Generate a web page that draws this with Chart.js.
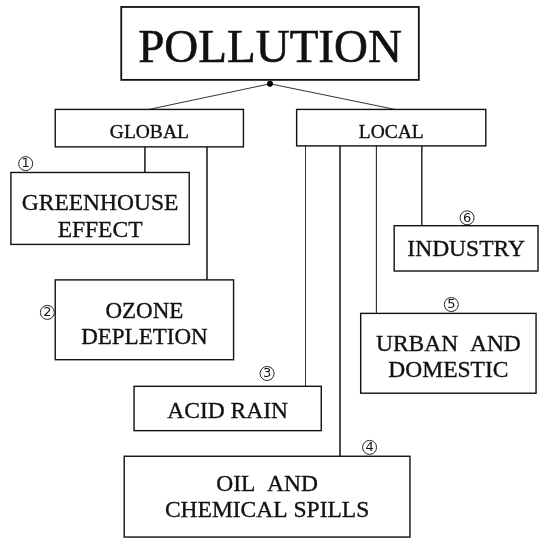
<!DOCTYPE html>
<html lang="en">
<head>
  <meta charset="UTF-8">
  <style>
    html, body { margin: 0; padding: 0; background: #fff; }
    #wrap { width: 544px; height: 545px; }
  </style>
</head>
<body>
  <div id="wrap"><canvas id="tree" width="544" height="545"></canvas></div>

<script src="https://cdn.jsdelivr.net/npm/chart.js"></script>
<script>
  // Nós do diagrama (texto, pai e número circulado)
  const nodeLabels = ['POLLUTION', 'GLOBAL', 'LOCAL', 'GREENHOUSE\nEFFECT', 'OZONE\nDEPLETION',
    'ACID RAIN', 'OIL  AND\nCHEMICAL SPILLS', 'URBAN  AND\nDOMESTIC', 'INDUSTRY'];
  const nodeParents = [null, 0, 0, 1, 1, 2, 2, 2, 2];
  const nodeNumbers = ['', '', '', '1', '2', '3', '4', '5', '6'];

  // Layout em unidades do diagrama (0..544 x 0..545), separado dos dados
  const boxes = [
    [119, 3, 421, 77], [52, 107, 243, 145], [297, 107, 489, 144],
    [7, 171, 188, 244], [52, 280, 233, 361], [132, 388, 322, 433],
    [122, 459, 412, 541], [362, 314, 540, 395], [396, 225, 542, 271]
  ];
  const textCenterY = [43.5, 129.5, 129, 215, 324, 412, 499.5, 357.5, 248];
  const fontSizes = [47, 19.5, 19.5, 23.5, 23, 23.5, 23.5, 23.5, 23.5];
  const lineGap = 26.5;
  const linkX = [null, 147, 397, 143, 206, 306, 341, 378, 424];
  const rootDot = { x: 270, y: 81 };
  const numberPos = [null, null, null, [22, 162], [44, 313], [267, 375], [371, 450], [454, 305], [470, 217]];

  // Linhas de ligação como datasets do próprio Chart.js
  const links = [];
  nodeParents.forEach((p, i) => {
    if (p === null) return;
    const b = boxes[i];
    let pts;
    if (p === 0) {
      pts = [{ x: rootDot.x, y: rootDot.y }, { x: linkX[i], y: b[1] }];
    } else {
      pts = [{ x: linkX[i], y: boxes[p][3] }, { x: linkX[i], y: b[1] }];
    }
    links.push({
      type: 'scatter',
      data: pts,
      showLine: true,
      borderColor: '#333',
      borderWidth: 1,
      pointRadius: 0,
      order: 2
    });
  });
  links.push({
    type: 'scatter',
    data: [rootDot],
    pointRadius: 3,
    pointBackgroundColor: '#000',
    pointBorderWidth: 0,
    order: 1
  });

  const boxPlugin = {
    id: 'boxPlugin',
    afterDatasetsDraw(chart) {
      const ctx = chart.ctx;
      const sx = chart.scales.x, sy = chart.scales.y;
      ctx.save();
      boxes.forEach((b, i) => {
        const x0 = sx.getPixelForValue(b[0]), y0 = sy.getPixelForValue(b[1]);
        const x1 = sx.getPixelForValue(b[2]), y1 = sy.getPixelForValue(b[3]);
        ctx.fillStyle = '#fff';
        ctx.fillRect(x0, y0, x1 - x0, y1 - y0);
        ctx.strokeStyle = '#111';
        ctx.lineWidth = i === 0 ? 1.8 : 1.4;
        ctx.strokeRect(x0, y0, x1 - x0, y1 - y0);

        const lines = nodeLabels[i].split('\n');
        const fs = fontSizes[i];
        ctx.fillStyle = '#111';
        ctx.strokeStyle = '#111';
        ctx.lineWidth = i === 0 ? 0.6 : 0.35;
        ctx.font = fs + 'px "Liberation Serif", "Times New Roman", serif';
        ctx.textAlign = 'center';
        ctx.textBaseline = 'alphabetic';
        const cx = (x0 + x1) / 2;
        const cy = sy.getPixelForValue(textCenterY[i]);
        const cap = fs * 0.66;
        lines.forEach((t, k) => {
          const off = (k - (lines.length - 1) / 2) * lineGap;
          ctx.fillText(t, cx, cy + off + cap / 2);
          ctx.strokeText(t, cx, cy + off + cap / 2);
        });
      });

      // números circulados
      nodeNumbers.forEach((n, i) => {
        if (!n) return;
        const px = sx.getPixelForValue(numberPos[i][0]);
        const py = sy.getPixelForValue(numberPos[i][1]);
        ctx.beginPath();
        ctx.arc(px, py, 7, 0, Math.PI * 2);
        ctx.fillStyle = '#fff';
        ctx.fill();
        ctx.strokeStyle = '#222';
        ctx.lineWidth = 1;
        ctx.stroke();
        ctx.fillStyle = '#111';
        ctx.font = '13px "DejaVu Sans", sans-serif';
        ctx.textAlign = 'center';
        ctx.textBaseline = 'middle';
        ctx.fillText(n, px, py + 0.5);
      });
      ctx.restore();
    }
  };

  const chart = new Chart(document.getElementById('tree'), {
    type: 'scatter',
    data: { datasets: links },
    options: {
      responsive: false,
      animation: false,
      layout: { padding: 0 },
      scales: {
        x: { type: 'linear', min: 0, max: 544, display: false },
        y: { type: 'linear', min: 0, max: 545, reverse: true, display: false }
      },
      plugins: {
        legend: { display: false },
        tooltip: { enabled: false }
      }
    },
    plugins: [boxPlugin]
  });
</script>
</body>
</html>
